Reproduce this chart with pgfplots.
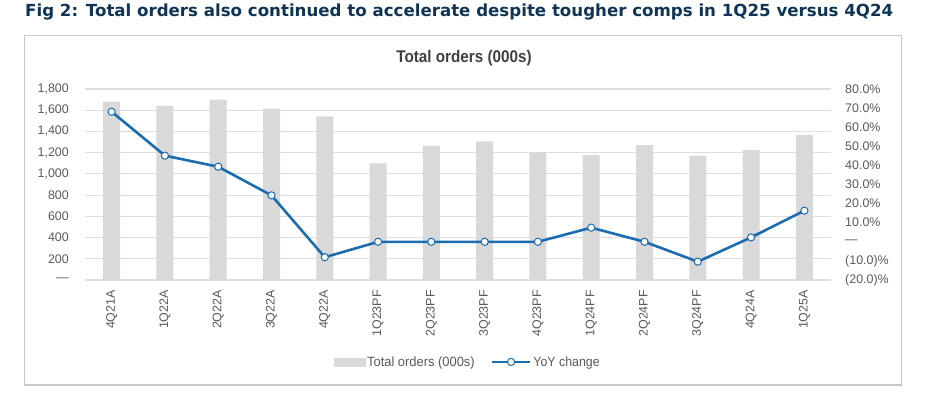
\documentclass[border=0pt]{standalone}
\usepackage{fontspec}
\setmainfont{Liberation Sans}
\newfontfamily\titlefont{DejaVu Sans}
\usepackage{pgfplots}
\pgfplotsset{compat=1.18}
\definecolor{barcol}{RGB}{217,217,217}
\definecolor{linecol}{RGB}{28,108,176}
\definecolor{txtgray}{RGB}{89,89,89}
\definecolor{gridgray}{RGB}{222,222,222}
\definecolor{titleblue}{RGB}{16,52,84}
\definecolor{boxgray}{RGB}{200,200,200}
\begin{document}
\begin{tikzpicture}
\path[use as bounding box] (0,0) rectangle (949bp,396bp);
\draw[boxgray, line width=1.2bp] (24.5bp,11bp) rectangle (901.5bp,360.5bp);
\node[anchor=base west, inner sep=0pt, text=titleblue, font=\titlefont\bfseries\fontsize{16.7}{19}\selectfont] at (25bp,379bp) {Fig 2: Total orders also continued to accelerate despite tougher comps in 1Q25 versus 4Q24};
\node[anchor=center, inner sep=0pt, text=black!75, font=\bfseries\fontsize{17}{19}\selectfont] at (464bp,338bp) {\scalebox{0.9}[1]{Total orders (000s)}};
\begin{axis}[
  at={(85bp,116bp)}, anchor=south west,
  width=746bp, height=191bp, scale only axis,
  xmin=-0.5, xmax=13.5, ymin=0, ymax=1800,
  axis line style={draw=none},
  major tick length=0pt,
  ytick={0,200,...,1800},
  yticklabels={---,200,400,600,800,{1,000},{1,200},{1,400},{1,600},{1,800}},
  ymajorgrids, grid style={gridgray, line width=1.2bp},
  xtick={0,...,13},
  xticklabels={4Q21A,1Q22A,2Q22A,3Q22A,4Q22A,1Q23PF,2Q23PF,3Q23PF,4Q23PF,1Q24PF,2Q24PF,3Q24PF,4Q24A,1Q25A},
  xticklabel style={rotate=90, anchor=east, inner sep=0pt, xshift=0bp, font=\fontsize{12.5}{14}\selectfont, text=txtgray},
  xticklabel shift=10bp,
  yticklabel style={anchor=east, inner sep=0pt, font=\fontsize{12.5}{14}\selectfont, text=txtgray},
  yticklabel shift=16bp,
]
\addplot[ybar, bar width=17bp, fill=barcol, draw=none] coordinates {
(0,1680) (1,1640) (2,1700) (3,1615) (4,1543) (5,1100) (6,1266) (7,1307) (8,1200) (9,1178) (10,1270) (11,1169) (12,1225) (13,1367)};
\end{axis}
\begin{axis}[
  at={(85bp,116bp)}, anchor=south west,
  width=746bp, height=191bp, scale only axis,
  xmin=-0.5, xmax=13.5, ymin=-20, ymax=80,
  axis line style={draw=none},
  major tick length=0pt,
  axis y line*=right, hide x axis,
  ytick={-20,-10,...,80},
  yticklabels={(20.0)\%,(10.0)\%,---,10.0\%,20.0\%,30.0\%,40.0\%,50.0\%,60.0\%,70.0\%,80.0\%},
  yticklabel style={anchor=west, inner sep=0pt, font=\fontsize{12.5}{14}\selectfont, text=txtgray},
  yticklabel shift=14bp,
  legend columns=2,
  legend style={at={(0.513,-0.429)}, anchor=center, draw=none, fill=none, font=\fontsize{13.5}{15}\selectfont, text=txtgray,
    /tikz/every even column/.append style={column sep=14bp},
    /tikz/every node/.append style={inner xsep=2bp}},
]
\addlegendimage{legend image code/.code={\fill[barcol] (0bp,-4bp) rectangle (31bp,4bp);}}
\addlegendentry{\scalebox{0.96}[1]{Total orders (000s)}}
\addplot[linecol, line width=2.6bp, mark=*, mark size=3.6bp, mark options={fill=white, draw=linecol, line width=1bp},
  legend image code/.code={\draw[mark repeat=2,mark phase=2] plot coordinates {(0bp,0bp)(19bp,0bp)(38bp,0bp)};}] coordinates {
(0,68.1) (1,45.1) (2,39.3) (3,24.3) (4,-8.1) (5,0) (6,0) (7,0) (8,0) (9,7.4) (10,0) (11,-10.4) (12,2.3) (13,16.3)};
\addlegendentry{\scalebox{0.92}[1]{YoY change}}
\end{axis}
\end{tikzpicture}
\end{document}
